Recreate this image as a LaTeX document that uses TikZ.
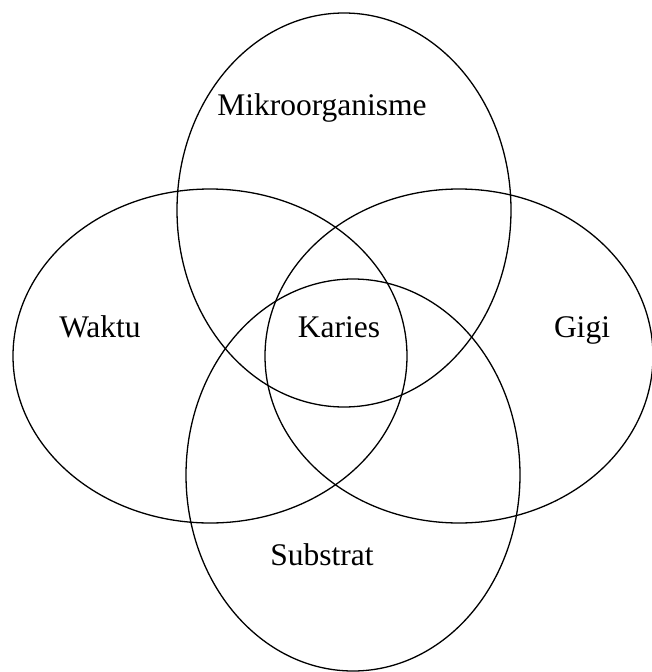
\documentclass[tikz,border=0pt]{standalone}
\usepackage{fontspec}
\setmainfont{Liberation Serif}
\begin{document}
\begin{tikzpicture}[x=1pt,y=-1pt,
  setring/.style={draw=black, line width=1.3pt},
  lbl/.style={anchor=base, inner sep=0pt, font=\fontsize{31.5}{36}\selectfont}]
\useasboundingbox (0,0) rectangle (651,672);
\draw[setring] (344,210) ellipse [x radius=167, y radius=197];
\draw[setring] (210,356) ellipse [x radius=197, y radius=167];
\draw[setring] (459,356) ellipse [x radius=194, y radius=167];
\draw[setring] (353,475) ellipse [x radius=167, y radius=196];
\node[lbl] (mikro) at (322,115) {Mikroorganisme};
\node[lbl] (waktu) at (100,337) {Waktu};
\node[lbl] (karies) at (339,337) {Karies};
\node[lbl] (gigi) at (582,337) {Gigi};
\node[lbl] (substrat) at (322,565) {Substrat};
\end{tikzpicture}
\end{document}
